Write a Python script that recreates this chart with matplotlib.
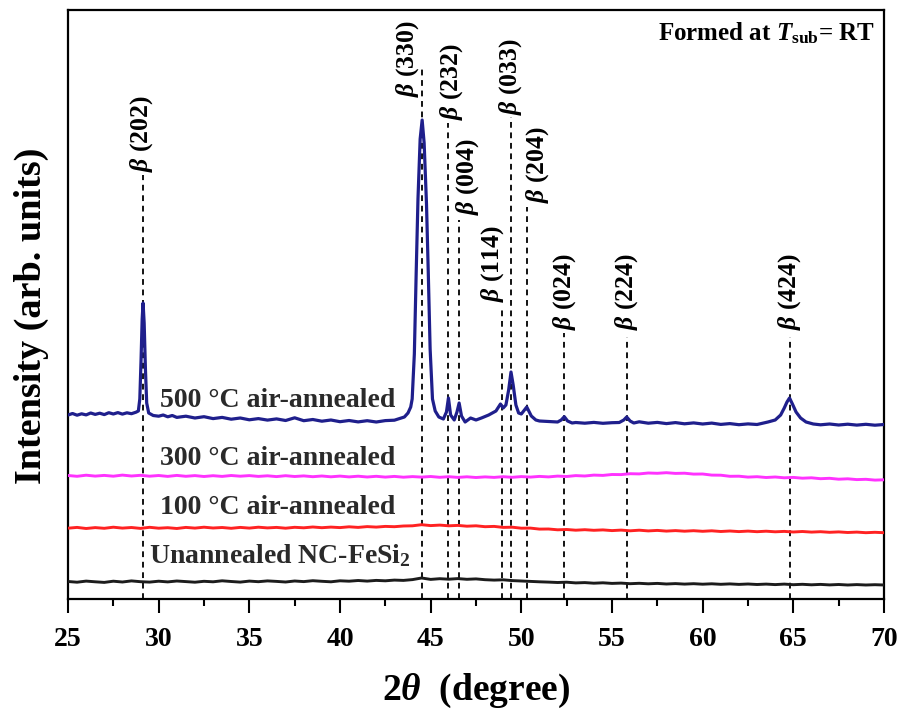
import numpy as np
import matplotlib
matplotlib.use("Agg")
import matplotlib.pyplot as plt

plt.rcParams["font.family"] = ["Liberation Serif", "DejaVu Serif"]
plt.rcParams["font.weight"] = "bold"
plt.rcParams["mathtext.fontset"] = "custom"
plt.rcParams["mathtext.rm"] = "Liberation Serif:bold"
plt.rcParams["mathtext.it"] = "Liberation Serif:italic:bold"
plt.rcParams["mathtext.bf"] = "Liberation Serif:bold"

# ---------------- data ----------------
# common 2-theta grid of the flat traces (degrees)
two_theta = np.arange(25.0, 70.01, 0.5)

unannealed = [
    17.5, 16.8, 17.9, 17.2, 16.6, 17.8, 17.0, 18.1, 17.3, 16.9,
    17.8, 17.1, 18.0, 17.4, 16.8, 17.7, 17.2, 18.2, 17.5, 16.9,
    17.9, 17.3, 18.1, 17.6, 17.0, 18.0, 17.4, 18.3, 17.7, 17.2,
    18.2, 17.8, 18.5, 17.9, 18.6, 18.2, 18.9, 18.6, 19.4, 21.0,
    19.6, 20.3, 19.8, 20.4, 19.7, 20.1, 19.3, 18.9, 19.2, 18.4,
    18.0, 17.6, 17.2, 16.9, 16.5, 16.8, 16.1, 16.4, 15.8, 16.2,
    15.6, 15.9, 15.3, 15.7, 15.2, 15.6, 15.0, 15.4, 14.9, 15.3,
    14.8, 15.2, 14.7, 15.1, 14.6, 15.0, 14.5, 14.9, 14.4, 14.9,
    14.3, 14.7, 14.2, 14.6, 14.1, 14.5, 14.0, 14.4, 14.0, 14.3,
    14.0,
]

annealed_100 = [
    70.8, 71.6, 70.5, 71.4, 70.7, 71.8, 70.9, 71.5, 70.6, 71.7,
    70.8, 71.3, 70.5, 71.6, 70.9, 71.8, 71.0, 71.5, 70.7, 71.6,
    70.9, 71.8, 71.1, 71.6, 70.8, 71.7, 71.2, 72.0, 71.3, 71.9,
    71.4, 72.2, 71.6, 72.4, 71.9, 72.6, 72.3, 73.0, 73.2, 74.3,
    73.4, 73.9, 73.2, 73.6, 72.8, 73.2, 72.3, 72.6, 71.6, 71.8,
    70.8, 70.9, 69.9, 70.0, 69.2, 69.5, 68.8, 69.3, 68.7, 69.1,
    68.4, 68.9, 68.2, 68.8, 68.1, 68.6, 67.9, 68.4, 67.8, 68.3,
    67.7, 68.2, 67.5, 68.0, 67.4, 67.9, 67.3, 67.8, 67.2, 67.6,
    67.0, 67.5, 66.9, 67.3, 66.7, 67.1, 66.5, 66.9, 66.3, 66.7,
    66.3,
]

annealed_300 = [
    123.5, 122.7, 123.8, 122.9, 123.6, 122.8, 123.9, 123.0, 123.7, 122.8,
    123.5, 122.6, 123.6, 122.7, 123.4, 122.5, 123.3, 122.6, 123.5, 122.8,
    123.4, 122.6, 123.2, 122.4, 123.3, 122.5, 123.1, 122.3, 123.0, 122.2,
    122.9, 122.1, 122.8, 122.0, 122.7, 121.9, 122.6, 121.8, 122.4, 121.9,
    122.5, 121.7, 122.3, 121.6, 122.2, 121.5, 122.1, 121.6, 122.3, 121.7,
    122.4, 121.9, 122.6, 122.1, 122.9, 122.5, 123.4, 123.0, 123.9, 123.6,
    124.5, 124.4, 125.3, 125.1, 126.0, 125.7, 126.3, 125.6, 125.8, 124.9,
    125.0, 123.9, 123.8, 122.7, 122.8, 121.9, 122.3, 121.5, 122.0, 121.2,
    121.6, 120.8, 121.2, 120.3, 120.7, 119.8, 120.2, 119.4, 119.7, 118.9,
    119.2,
]

# 500 °C trace, sampled more finely around the reflections
two_theta_500 = [
    25.0, 25.25, 25.5, 25.75, 26.0, 26.25, 26.5, 26.75, 27.0, 27.25,
    27.5, 27.75, 28.0, 28.25, 28.5, 28.75, 28.88, 28.96, 29.03, 29.09,
    29.14, 29.2, 29.27, 29.34, 29.45, 29.7, 30.0, 30.25, 30.5, 30.75,
    31.0, 31.5, 32.0, 32.5, 33.0, 33.5, 34.0, 34.5, 35.0, 35.5,
    36.0, 36.5, 37.0, 37.5, 38.0, 38.5, 39.0, 39.5, 40.0, 40.5,
    41.0, 41.5, 42.0, 42.5, 43.0, 43.3, 43.55, 43.75, 43.9, 43.98,
    44.1, 44.2, 44.3, 44.42, 44.53, 44.64, 44.77, 44.87, 44.97, 45.1,
    45.25, 45.45, 45.7, 45.87, 45.98, 46.1, 46.3, 46.45, 46.57, 46.7,
    46.9, 47.2, 47.5, 47.8, 48.2, 48.6, 48.85, 49.0, 49.15, 49.3,
    49.43, 49.55, 49.7, 49.85, 50.0, 50.3, 50.55, 50.8, 51.0, 51.5,
    52.0, 52.2, 52.37, 52.55, 52.8, 53.0, 53.5, 54.0, 54.5, 55.0,
    55.4, 55.65, 55.81, 56.0, 56.2, 56.5, 57.0, 57.5, 58.0, 58.5,
    59.0, 59.5, 60.0, 60.5, 61.0, 61.5, 62.0, 62.5, 63.0, 63.3,
    63.6, 64.0, 64.3, 64.5, 64.65, 64.79, 64.95, 65.15, 65.4, 65.7,
    66.1, 66.5, 67.0, 67.5, 68.0, 68.5, 69.0, 69.5, 70.0,
]
annealed_500 = [
    184.0, 185.5, 183.8, 185.2, 184.1, 186.0, 184.6, 185.8, 184.4, 186.3,
    185.0, 186.4, 184.9, 186.2, 185.3, 186.8, 188.0, 200.0, 240.0, 280.0,
    296.0, 276.0, 230.0, 196.0, 186.0, 183.5, 182.8, 184.0, 182.2, 183.5,
    181.6, 182.8, 181.0, 182.3, 180.4, 181.6, 179.8, 181.0, 179.2, 180.4,
    178.9, 180.1, 178.5, 181.2, 178.3, 179.5, 177.8, 179.0, 177.3, 178.5,
    177.1, 178.3, 177.0, 178.4, 178.8, 180.5, 182.0, 186.0, 192.0, 200.0,
    245.0, 325.0, 400.0, 460.0, 479.0, 456.0, 395.0, 325.0, 250.0, 200.0,
    188.0, 182.0, 180.0, 187.0, 201.0, 184.0, 179.0, 187.0, 196.0, 183.0,
    177.0, 181.0, 179.0, 181.0, 184.0, 188.0, 195.0, 191.0, 194.0, 209.0,
    227.0, 214.0, 194.0, 186.0, 185.0, 192.0, 183.0, 179.0, 178.0, 177.5,
    177.0, 179.0, 182.3, 178.0, 176.0, 176.5, 175.8, 176.6, 175.7, 176.3,
    176.5, 179.0, 182.0, 178.0, 176.0, 177.2, 175.8, 176.6, 175.4, 176.4,
    175.2, 176.1, 175.0, 175.9, 174.6, 175.4, 174.3, 175.1, 174.5, 175.8,
    177.0, 179.0, 184.0, 191.0, 197.0, 201.0, 195.0, 187.0, 181.0, 177.0,
    175.0, 174.2, 175.0, 174.0, 174.8, 173.9, 174.7, 173.8, 174.5,
]

# beta-FeSi2 reflections
hkl = ["202", "330", "232", "004", "114", "033", "204", "024", "224", "424"]
peak_pos = [29.14, 44.53, 45.98, 46.57, 48.92, 49.43, 50.30, 52.37, 55.81, 64.79]

sample_names = ["500 °C air-annealed", "300 °C air-annealed",
                "100 °C air-annealed", r"Unannealed NC-FeSi$_{\mathbf{2}}$"]

# ---------------- layout ----------------
line_top = [424, 531, 476, 379, 292, 482, 392, 266, 262, 262]
label_x = [29.07, 43.70, 46.18, 47.01, 48.41, 49.38, 50.87, 52.37, 55.78, 64.77]
label_y = [427, 502, 479, 384, 297, 484, 396, 269, 269, 269]
name_xy = [(30.07, 192), (30.07, 134), (30.07, 85), (29.48, 36)]

colors = ["#1f1f8c", "#ff33ff", "#ff2222", "#1c1c1c"]

fig = plt.figure(figsize=(9.03, 7.11), dpi=100)
ax = fig.add_axes([68 / 903, 1 - 599 / 711, 816 / 903, 589 / 711])

for xp, top in zip(peak_pos, line_top):
    ax.plot([xp, xp], [0, top], color="black", lw=1.3,
            dashes=(3.2, 2.6), zorder=1)

ax.plot(two_theta, unannealed, color=colors[3], lw=2.1, zorder=3)
ax.plot(two_theta, annealed_100, color=colors[2], lw=2.1, zorder=3)
ax.plot(two_theta, annealed_300, color=colors[1], lw=2.1, zorder=3)
ax.plot(two_theta_500, annealed_500, color=colors[0], lw=2.3, zorder=3)

for name, (tx, ty) in zip(sample_names, name_xy):
    ax.text(tx, ty, name, fontsize=20, fontweight="bold", color="#2a2a2a",
            ha="left", va="baseline", zorder=4)

for h, lx, ly in zip(hkl, label_x, label_y):
    ax.text(lx, ly, r"$\beta$" + f" ({h})", fontsize=18.5, fontweight="bold",
            rotation=90, ha="center", va="bottom", zorder=4)

ax.text(69.5, 559, r"Formed at $T_{\mathbf{sub}}$= RT", fontsize=18,
        fontweight="bold", ha="right", va="baseline")

ax.set_xlim(25, 70)
ax.set_ylim(0, 589)
ax.set_xticks(np.arange(25, 71, 5))
ax.set_xticks(np.arange(27.5, 70, 5), minor=True)
ax.set_yticks([])
ax.tick_params(axis="x", which="major", direction="out", length=10,
               width=1.5, pad=10, labelsize=20)
ax.tick_params(axis="x", which="minor", direction="out", length=5, width=1.5)
for lab in ax.get_xticklabels():
    lab.set_fontweight("bold")
for sp in ax.spines.values():
    sp.set_linewidth(1.6)

fig.text(476 / 903, 1 - 700 / 711, r"2$\theta$  (degree)", fontsize=27,
         fontweight="bold", ha="center", va="baseline")
fig.text(31 / 903, 1 - 316 / 711, "Intensity (arb. units)", fontsize=27.5,
         fontweight="bold", ha="center", va="center", rotation=90)

fig.savefig("out.png", dpi=100)
